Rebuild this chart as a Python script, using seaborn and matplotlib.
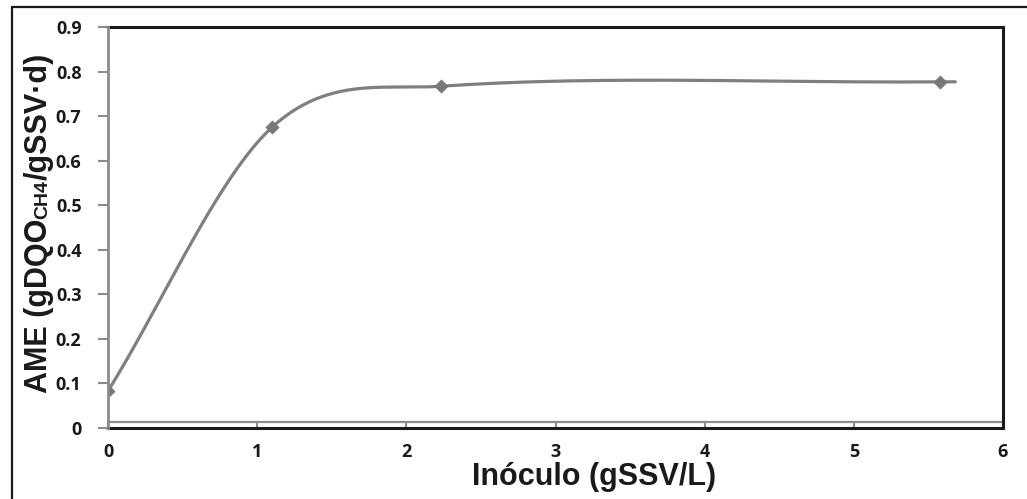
import numpy as np
import pandas as pd
import matplotlib
matplotlib.use("Agg")
import matplotlib.pyplot as plt
from matplotlib.lines import Line2D
import seaborn as sns

# Measured activity versus inoculum concentration
inoculo = [0.0, 1.10, 2.23, 5.58, 5.68]
ame = [0.083, 0.675, 0.767, 0.777, 0.777]
n_marked = 4  # the last point only closes the curve

x_ticks = [0, 1, 2, 3, 4, 5, 6]
y_ticks = [0.0, 0.1, 0.2, 0.3, 0.4, 0.5, 0.6, 0.7, 0.8, 0.9]
y_tick_labels = ["0", "0.1", "0.2", "0.3", "0.4", "0.5", "0.6", "0.7", "0.8", "0.9"]

GRAY = "#7f7f7f"
AXIS_GRAY = "#8c8c8c"
DARK = "#1a1a1a"

sns.set_theme(style="white")
plt.rcParams["font.family"] = ["Open Sans", "DejaVu Sans"]


def smooth_curve(xs, ys, n=80):
    """Piecewise cubic Hermite curve through the points (smoothed line)."""
    xs = np.asarray(xs, float)
    ys = np.asarray(ys, float)
    m = np.empty_like(xs)
    m[0] = (ys[1] - ys[0]) / (xs[1] - xs[0])
    m[-1] = (ys[-1] - ys[-2]) / (xs[-1] - xs[-2])
    for i in range(1, len(xs) - 1):
        m[i] = (ys[i + 1] - ys[i - 1]) / (xs[i + 1] - xs[i - 1])
    px, py = [], []
    for i in range(len(xs) - 1):
        h = xs[i + 1] - xs[i]
        t = np.linspace(0, 1, n)
        if i > 0:
            t = t[1:]
        h00 = 2 * t**3 - 3 * t**2 + 1
        h10 = t**3 - 2 * t**2 + t
        h01 = -2 * t**3 + 3 * t**2
        h11 = t**3 - t**2
        px.append(xs[i] + t * h)
        py.append(h00 * ys[i] + h10 * h * m[i] + h01 * ys[i + 1] + h11 * h * m[i + 1])
    return np.concatenate(px), np.concatenate(py)


cx, cy = smooth_curve(inoculo, ame)
curve = pd.DataFrame({"x": cx, "y": cy})
points = pd.DataFrame({"x": inoculo[:n_marked], "y": ame[:n_marked]})

W, H = 1027, 499
fig = plt.figure(figsize=(W / 100, H / 100), dpi=100)
fig.patch.set_facecolor("white")
ax = fig.add_axes([108 / W, 1 - 428 / H, (1003 - 108) / W, (428 - 27) / H])

sns.lineplot(data=curve, x="x", y="y", ax=ax, color=GRAY, linewidth=2.3,
             sort=False, estimator=None)
sns.scatterplot(data=points, x="x", y="y", ax=ax, marker="D", s=45,
                color="#787878", edgecolor="#787878", linewidth=0.5, zorder=5)

ax.set_xlim(0, 6)
ax.set_ylim(0, 0.9)
ax.set_xticks(x_ticks)
ax.set_yticks(y_ticks)
ax.set_yticklabels(y_tick_labels)
ax.set_xlabel("")
ax.set_ylabel("")

for lab in ax.get_xticklabels() + ax.get_yticklabels():
    lab.set_fontweight("bold")
    lab.set_fontsize(13)
    lab.set_color(DARK)

ax.tick_params(axis="x", direction="in", length=5, width=1.5, color=AXIS_GRAY,
               pad=11, bottom=True)
ax.tick_params(axis="y", direction="out", length=7, width=1.5, color=AXIS_GRAY,
               pad=12, left=True)

for side in ("top", "right", "bottom"):
    ax.spines[side].set_color(DARK)
    ax.spines[side].set_linewidth(2.2)
ax.spines["left"].set_color(AXIS_GRAY)
ax.spines["left"].set_linewidth(2.0)
ax.spines["left"].set_zorder(6)

# horizontal value axis sitting just above the plot-area frame
ax.axhline(0.0125, color=AXIS_GRAY, linewidth=1.6, zorder=1)

# x-axis title
fig.text(594 / W, 1 - 485 / H, "Inóculo (gSSV/L)", ha="center", va="baseline",
         fontsize=22, fontweight="bold", family=["Liberation Sans", "DejaVu Sans"],
         color=DARK)

# y-axis title with small "CH4" set on the baseline
fig.canvas.draw()
renderer = fig.canvas.get_renderer()
y_pos = 1 - 393 / H
x_base = 47 / W
pieces = [("AME (gDQO", 22), ("CH4", 14), ("/gSSV·d)", 22)]
for text, size in pieces:
    t = fig.text(x_base, y_pos, text, rotation=90, rotation_mode="anchor",
                 ha="left", va="baseline", fontsize=size, fontweight="bold",
                 family=["Liberation Sans", "DejaVu Sans"], color=DARK)
    bb = t.get_window_extent(renderer)
    y_pos += bb.height / H

# outer frame of the figure
fig.add_artist(Line2D([12 / W, 1.0], [1 - 7 / H, 1 - 7 / H], transform=fig.transFigure,
                      color=DARK, linewidth=1.6))
fig.add_artist(Line2D([12 / W, 12 / W], [0.0, 1 - 7 / H], transform=fig.transFigure,
                      color=DARK, linewidth=1.6))

fig.savefig("out.png", dpi=100, facecolor="white")
